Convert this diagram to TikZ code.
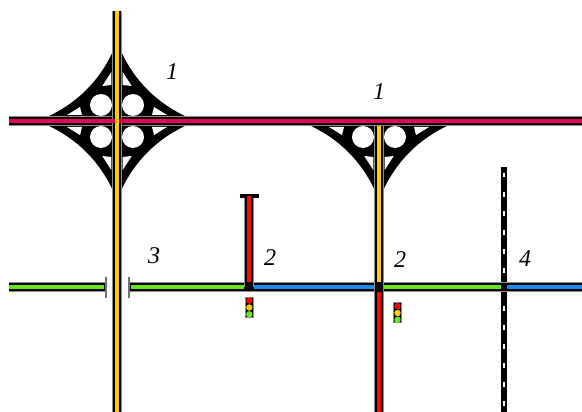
\documentclass[tikz,border=0pt]{standalone}
\usepackage{fontspec}
\setmainfont{Liberation Serif}
\usetikzlibrary{positioning,calc}
\definecolor{rdpink}{HTML}{E6005C}
\definecolor{rdyellow}{HTML}{FFCC00}
\definecolor{rdgreen}{HTML}{66E619}
\definecolor{rdblue}{HTML}{1A8CE6}
\definecolor{rdred}{HTML}{F20D0D}
\definecolor{rdgrey}{HTML}{8C8C8C}

\begin{document}
\begin{tikzpicture}[
  x=1pt, y=-1pt,
  casing/.style={draw=black, line width=8pt,
                 preaction={draw=rdgrey, line width=10pt}},
  core/.style={line width=3.6pt},
  rail/.style={draw=white, line width=2.6pt, dash pattern=on 4.5pt off 14.5pt, dash phase=13pt},
  tag/.style={font=\itshape\fontsize{24}{24}\selectfont, inner sep=0pt},
  hole/.style={fill=white},
  lamp/.style={circle, inner sep=0pt, minimum size=6.4pt},
  signalbox/.style={draw=rdgrey, fill=black, line width=0.9pt, minimum width=8.6pt,
                    minimum height=20pt, inner sep=0pt},
  brg/.style={draw=rdgrey!80!black, line width=1.8pt},
  quarter/.pic={
    \fill (0,0) -- (4.3,69) .. controls (18.1,39.7) and (39.7,18.1) .. (70,4) -- (70,0) -- cycle;
    \fill[hole] (16,16) circle (11);
    \fill[hole] (5.7,36) -- (14.7,35) -- (5.7,49) -- cycle;
    \fill[hole] (35,6) -- (50,6) -- (37,14) -- cycle;
  },
]
  \useasboundingbox (0,0) rectangle (582,412);

  %% Puntos de la red
  \coordinate (westTop)  at (9,121);
  \coordinate (eastTop)  at (582,121);
  \coordinate (westLow)  at (9,287);
  \coordinate (eastLow)  at (582,287);
  \coordinate (knotA)    at (117,121);
  \coordinate (knotB)    at (379,121);
  \coordinate (topA)     at (117,11);
  \coordinate (endA)     at (117,412);
  \coordinate (crossA)   at (249,287);
  \coordinate (crossB)   at (379,287);
  \coordinate (crossC)   at (504,287);
  \coordinate (stubTop)  at (249,196);
  \coordinate (endB)     at (379,412);
  \coordinate (railTop)  at (504,167);
  \coordinate (railEnd)  at (504,412);

  %% Rampas de los enlaces
  \pic at (knotA) {quarter};
  \pic[xscale=-1] at (knotA) {quarter};
  \pic[yscale=-1] at (knotA) {quarter};
  \pic[xscale=-1,yscale=-1] at (knotA) {quarter};
  \pic at (knotB) {quarter};
  \pic[xscale=-1] at (knotB) {quarter};

  %% Ferrocarril
  \draw[draw=rdgrey, line width=6.6pt] (railTop) -- (railEnd);
  \draw[draw=black, line width=5.2pt] (railTop) -- (railEnd);
  \draw[rail] (railTop) -- (railEnd);

  %% Vias con su borde
  \draw[casing] (westLow) -- ($(westLow)+(97,0)$);
  \draw[casing] ($(westLow)+(120,0)$) -- (eastLow);
  \draw[casing] (stubTop) -- (crossA);
  \draw[casing] (knotB) -- (endB);
  \draw[core, rdyellow] (knotB) -- ($(crossB)+(0,-5)$);
  \draw[casing] (westTop) -- (eastTop);
  \draw[casing] (topA) -- (endA);
  \draw[draw=black, line width=4.4pt] (240,196) -- (259,196);

  %% Colores de cada tramo
  \draw[core, rdgreen] (westLow) -- ($(westLow)+(95,0)$);
  \draw[core, rdgreen] ($(westLow)+(122,0)$) -- ($(crossA)+(-5,0)$);
  \draw[core, rdblue] ($(crossA)+(5,0)$) -- ($(crossB)+(-5,0)$);
  \draw[core, rdgreen] ($(crossB)+(5,0)$) -- ($(crossC)+(-3,0)$);
  \draw[core, rdblue] ($(crossC)+(3,0)$) -- (eastLow);
  \draw[core, rdred] (stubTop) -- ($(crossA)+(0,-5)$);
  \draw[core, rdred] ($(crossB)+(0,5)$) -- (endB);
  \draw[core, rdpink] (westTop) -- (eastTop);
  \draw[core, rdyellow] (topA) -- (endA);

  %% Marcas del paso elevado
  \draw[brg] (106,277) -- (106,298);
  \draw[brg] (129,277) -- (129,298);

  %% Semaforos
  \node[signalbox] (signalA) at (249.3,307) {};
  \node[lamp, fill=red] (redA) at (249.3,300.7) {};
  \node[lamp, fill=rdyellow, below=0pt of redA] (yelA) {};
  \node[lamp, fill=rdgreen, below=0pt of yelA] (grnA) {};
  \node[signalbox] (signalB) at (397.5,312.5) {};
  \node[lamp, fill=red] (redB) at (397.5,306.2) {};
  \node[lamp, fill=rdyellow, below=0pt of redB] (yelB) {};
  \node[lamp, fill=rdgreen, below=0pt of yelB] (grnB) {};

  %% Etiquetas
  \node[tag] (labA) at (172,72)  {1};
  \node[tag] (labB) at (379,92)  {1};
  \node[tag] (labC) at (154,256) {3};
  \node[tag] (labD) at (270,258) {2};
  \node[tag] (labE) at (400,260) {2};
  \node[tag] (labF) at (525,259) {4};
\end{tikzpicture}
\end{document}
